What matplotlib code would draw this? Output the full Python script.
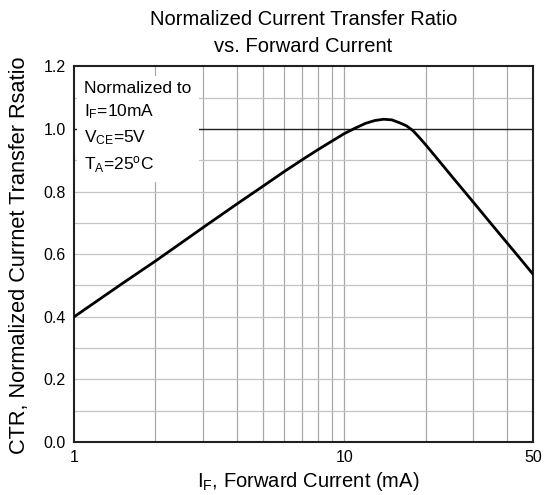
import matplotlib
matplotlib.use("Agg")
import matplotlib.pyplot as plt
from matplotlib.ticker import NullFormatter

plt.rcParams['font.family'] = ['Liberation Sans', 'DejaVu Sans']
plt.rcParams['mathtext.default'] = 'regular'

# forward current (mA) and normalized CTR
i_f = [1, 1.5, 2, 3, 4, 5, 6, 7, 8, 9, 10, 11, 12, 13, 14, 15, 16, 17,
       18, 19, 20, 22, 25, 30, 35, 40, 45, 50]
ctr = [0.40, 0.505, 0.578, 0.685, 0.76, 0.817, 0.864, 0.902, 0.934, 0.961,
       0.985, 1.003, 1.018, 1.027, 1.031, 1.029, 1.02, 1.01, 0.994, 0.972,
       0.95, 0.907, 0.849, 0.767, 0.697, 0.637, 0.584, 0.536]

x_ticks = [1, 10, 50]
x_grid = [2, 3, 4, 5, 6, 7, 8, 9, 10, 20, 30, 40]
y_ticks = [0.0, 0.2, 0.4, 0.6, 0.8, 1.0, 1.2]
y_grid = [0.1, 0.2, 0.3, 0.4, 0.5, 0.6, 0.7, 0.8, 0.9, 1.1]

fig = plt.figure(figsize=(5.45, 4.95), dpi=100)
ax = fig.add_axes([0.136, 0.107, 0.842, 0.759])

ax.set_xscale('log')
ax.set_xlim(1, 50)
ax.set_ylim(0, 1.2)

for x in x_grid:
    ax.axvline(x, color='#a8a8a8', lw=0.9, zorder=1)
for y in y_grid:
    ax.axhline(y, color='#c4c4c4', lw=0.9, zorder=1)
ax.axhline(1.0, color='#202020', lw=1.0, zorder=1)

ax.plot(i_f, ctr, color='black', lw=2, zorder=3)

ax.set_xticks(x_ticks)
ax.set_xticklabels([str(v) for v in x_ticks])
ax.xaxis.set_minor_formatter(NullFormatter())
ax.set_yticks(y_ticks)
ax.set_yticklabels([f"{v:.1f}" for v in y_ticks])
ax.tick_params(which='both', length=0, labelsize=11.5, pad=6)

for s in ax.spines.values():
    s.set_linewidth(1.5)
    s.set_color('#202020')

ax.text(0.022, 0.962,
        "Normalized to\nI$_F$=10mA\nV$_{CE}$=5V\nT$_A$=25$^o$C",
        transform=ax.transAxes, ha='left', va='top', fontsize=12.5,
        linespacing=1.5, zorder=4,
        bbox=dict(facecolor='white', edgecolor='none', pad=5))

ax.set_title("Normalized Current Transfer Ratio\nvs. Forward Current",
             fontsize=14.5, pad=10, linespacing=1.55)
ax.set_xlabel("I$_F$, Forward Current (mA)", fontsize=14.5, labelpad=5)
ax.xaxis.set_label_coords(0.51, -0.075)
ax.set_ylabel("CTR, Normalized Currnet Transfer Rsatio", fontsize=15.7)
ax.yaxis.set_label_coords(-0.096, 0.497)

fig.savefig("out.png", dpi=100)
